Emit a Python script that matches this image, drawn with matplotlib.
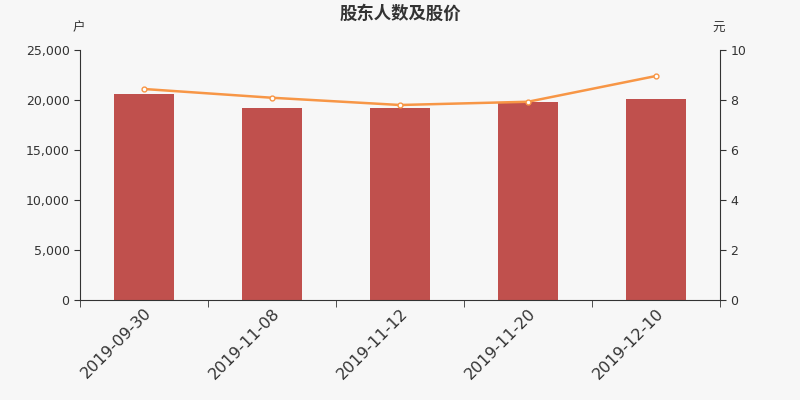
import matplotlib
matplotlib.use("Agg")
import matplotlib.pyplot as plt
from matplotlib.ticker import FuncFormatter, FixedLocator
import numpy as np

plt.rcParams['font.family'] = ['DejaVu Sans', 'Noto Sans CJK SC']

dates = ["2019-09-30", "2019-11-08", "2019-11-12", "2019-11-20", "2019-12-10"]
holders = [20630, 19200, 19180, 19770, 20070]
prices = [8.44, 8.09, 7.80, 7.93, 8.96]

bg = "#f7f7f7"
bar_color = "#c0504d"
line_color = "#f79646"
text_color = "#333333"

fig = plt.figure(figsize=(8, 4), dpi=100, facecolor=bg)
ax = fig.add_axes([0.1, 0.25, 0.8, 0.625], facecolor=bg)
x = np.arange(len(dates))
ax.bar(x, holders, width=0.47, color=bar_color, zorder=2)
ax.set_xlim(-0.5, len(dates) - 0.5)
ax.set_ylim(0, 25000)
ax.set_yticks(np.arange(0, 25001, 5000))
ax.yaxis.set_major_formatter(FuncFormatter(lambda v, p: f"{int(v):,}"))
ax.set_xticks(x)
ax.set_xticklabels(dates, rotation=45, ha='right', rotation_mode='anchor',
                   fontsize=11.5, color=text_color)
ax.xaxis.set_minor_locator(FixedLocator(np.arange(-0.5, len(dates), 1.0)))
ax.tick_params(axis='x', which='major', length=0, pad=4)
ax.tick_params(axis='x', which='minor', length=5, color=text_color)
ax.tick_params(axis='y', length=4, color=text_color, labelsize=9, labelcolor=text_color)
for s in ['top', 'right']:
    ax.spines[s].set_visible(False)
for s in ['left', 'bottom']:
    ax.spines[s].set_color(text_color)

ax2 = ax.twinx()
ax2.plot(x, prices, color=line_color, lw=1.8, marker='o', ms=3.5,
         markerfacecolor='white', markeredgecolor=line_color, markeredgewidth=1, zorder=3)
ax2.set_ylim(0, 10)
ax2.set_yticks(np.arange(0, 11, 2))
ax2.tick_params(axis='y', length=4, color=text_color, labelsize=9, labelcolor=text_color)
for s in ['top', 'left', 'bottom']:
    ax2.spines[s].set_visible(False)
ax2.spines['right'].set_color(text_color)

fig.text(0.5, 0.965, "股东人数及股价", ha='center', va='center', fontsize=12.5,
         fontweight='bold', color=text_color, family=['Noto Sans CJK SC'])
fig.text(0.098, 0.93, "户", ha='center', va='center', fontsize=9,
         color=text_color, family=['Noto Sans CJK SC'])
fig.text(0.898, 0.93, "元", ha='center', va='center', fontsize=9,
         color=text_color, family=['Noto Sans CJK SC'])

fig.savefig("out.png", dpi=100, facecolor=bg)
